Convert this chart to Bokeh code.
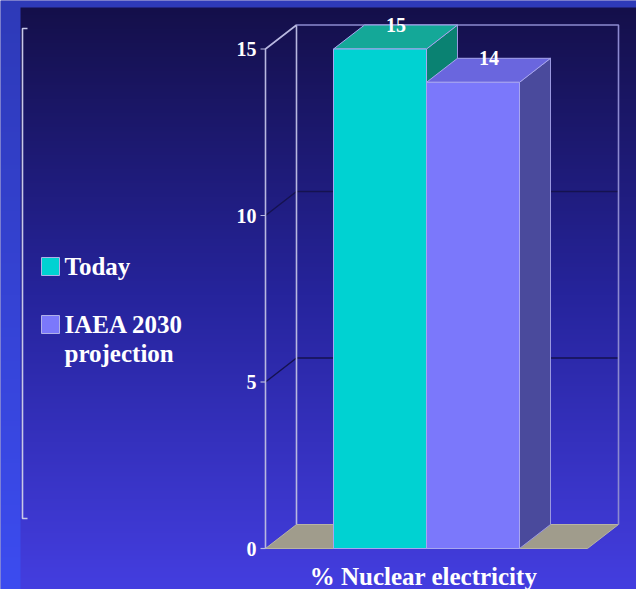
import numpy as np
from bokeh.plotting import figure
from bokeh.models import Range1d
from bokeh.core.properties import value
from bokeh.embed import file_html
from bokeh.resources import INLINE

# ---- data ----
categories = ["Today", "IAEA 2030 projection"]
legend_lines = [["Today"], ["IAEA 2030", "projection"]]
values = [15, 14]
tick_values = [0, 5, 10, 15]
tick_labels = ["0", "5", "10", "15"]
x_title = "% Nuclear electricity"

front_colors = ["#00d2d2", "#7b78fb"]
top_colors = ["#14a898", "#6a66de"]
side_colors = ["#0a8272", "#4a4a9c"]

W, H = 636, 589
Y0_PX = 548.0          # pixel row of value 0
PX_PER_UNIT = 33.3     # pixels per percentage point
DX = 31.0              # depth offset, pixels to the right
DY = 24.0 / PX_PER_UNIT  # depth offset, value units upward
FONT = value("Liberation Serif")


def yv(py):
    """Pixel row -> value coordinate (for layout items)."""
    return (Y0_PX - py) / PX_PER_UNIT


p = figure(width=W, height=H, output_backend="svg", toolbar_location=None,
           x_range=Range1d(0, W), y_range=Range1d(yv(H), yv(0)),
           min_border=0)
p.axis.visible = False
p.grid.visible = False
p.outline_line_color = None
p.background_fill_color = "#2a2aa8"
p.border_fill_color = "#2a2aa8"

# ---- background: slide frame + vertical gradient panel ----
img = np.zeros((H, W), dtype=np.uint32)
view = img.view(dtype=np.uint8).reshape((H, W, 4))
top = np.array([0x14, 0x0f, 0x48])
mid = np.array([0x26, 0x24, 0x9c])
bot = np.array([0x44, 0x3e, 0xe0])
rows = np.zeros((H, 3))
for r in range(H):
    f = r / (H - 1)
    if f < 0.5:
        rows[r] = top + (mid - top) * (f / 0.5)
    else:
        rows[r] = mid + (bot - mid) * ((f - 0.5) / 0.5)
frame_top = np.array([0x2e, 0x3a, 0xb8])
frame_bot = np.array([0x3c, 0x4c, 0xf0])
frame_rows = np.array([frame_top + (frame_bot - frame_top) * (r / (H - 1)) for r in range(H)])
for c in range(3):
    view[:, :, c] = rows[:, c][:, None].astype(np.uint8)
    view[:, :20, c] = frame_rows[:, c][:, None].astype(np.uint8)
    view[:7, :, c] = frame_rows[:7, c][:, None].astype(np.uint8)
view[:, :, 3] = 255
img = img[::-1]  # image rows go bottom-up
p.image_rgba(image=[img], x=0, y=yv(H), dw=W, dh=yv(0) - yv(H))

# ---- 3D axis box ----
x_front = 265.0
x_back_right = x_front + DX + 322
y_max = 15.0
wall_col = "#b8b8e0"
grid_col = "#151250"

# back-wall and side-wall gridlines
for tv in tick_values[1:-1]:
    p.line([x_front, x_front + DX, x_back_right], [tv, tv + DY, tv + DY],
           line_color=grid_col, line_width=1.5)

# floor
floor_right = x_back_right - DX
p.patch([x_front, floor_right, floor_right + DX, x_front + DX],
        [0, 0, DY, DY], fill_color="#a09c8c", line_color="#b8b4a4", line_width=1)

# walls outline
p.line([x_front, x_front, x_front + DX, x_front + DX],
       [0, y_max, y_max + DY, DY], line_color=wall_col, line_width=1.6)
p.line([x_front + DX, x_back_right, x_back_right],
       [y_max + DY, y_max + DY, DY], line_color="#8c8ad0", line_width=1.6)

# ticks and labels
for tv in tick_values:
    p.line([x_front - 5, x_front], [tv, tv], line_color=wall_col, line_width=1.2)
p.text(x=[x_front - 9] * len(tick_values), y=tick_values, text=tick_labels,
       text_font=FONT, text_font_style="bold",
       text_font_size="20px", text_color="#ffffff",
       text_align="right", text_baseline="middle")

# ---- bars ----
bar_x0 = 333.0
bar_w = 93.0
for i, v in enumerate(values):
    l = bar_x0 + i * bar_w
    r = l + bar_w
    # side face
    p.patch([r, r + DX, r + DX, r], [0, DY, v + DY, v],
            fill_color=side_colors[i], line_color="#9a98e0", line_width=1)
    # top face
    p.patch([l, r, r + DX, l + DX], [v, v, v + DY, v + DY],
            fill_color=top_colors[i], line_color="#a8a6ee", line_width=1)
    # front face
    p.patch([l, r, r, l], [0, 0, v, v],
            fill_color=front_colors[i], line_color="#a8a6f0", line_width=1)
    # value label at the back edge of the top face
    p.text(x=[l + bar_w / 2 + 16], y=[v + DY], text=[str(v)],
           text_font=FONT, text_font_style="bold",
           text_font_size="20px", text_color="#ffffff",
           text_align="center", text_baseline="middle")

# axis title
p.text(x=[423], y=[yv(576)], text=[x_title],
       text_font=FONT, text_font_style="bold",
       text_font_size="25px", text_color="#ffffff",
       text_align="center", text_baseline="middle")

# ---- legend ----
p.line([27, 22, 22, 27], [yv(28), yv(28), yv(518), yv(518)],
       line_color="#c8c8e8", line_width=1.6)
legend_y = [266, 324]
for i, lines in enumerate(legend_lines):
    py = legend_y[i]
    p.quad(left=[41], right=[59], top=[yv(py - 9)], bottom=[yv(py + 9)],
           fill_color=front_colors[i], line_color="#b0b0e8", line_width=1)
    for k, s in enumerate(lines):
        p.text(x=[64], y=[yv(py + k * 29)], text=[s],
               text_font=FONT, text_font_style="bold",
               text_font_size="25px", text_color="#ffffff",
               text_align="left", text_baseline="middle")

open("out.html", "w").write(file_html(p, INLINE))
